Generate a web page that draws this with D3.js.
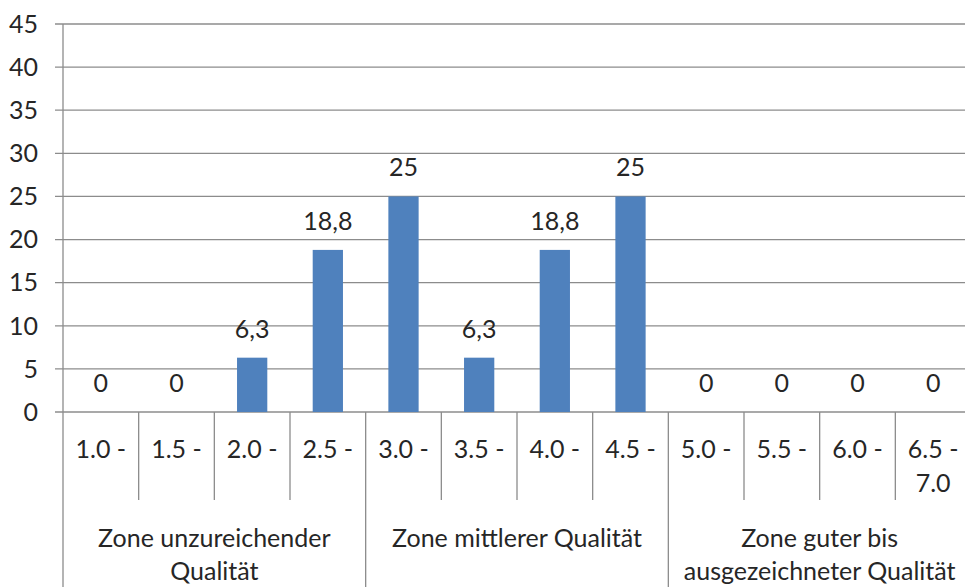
<!DOCTYPE html>
<html>
<head>
<meta charset="utf-8">
<script src="https://cdn.jsdelivr.net/npm/d3@7"></script>
<style>
  body { margin: 0; background: #fff; }
  svg { display: block; }
  text { font-family: Lato, "Open Sans", sans-serif; fill: #262626; }
</style>
</head>
<body>
<svg width="965" height="587"></svg>
<script>
const categories = ["1.0 -", "1.5 -", "2.0 -", "2.5 -", "3.0 -", "3.5 -", "4.0 -", "4.5 -", "5.0 -", "5.5 -", "6.0 -", "6.5 -\n7.0"];
const values = [0, 0, 6.3, 18.8, 25, 6.3, 18.8, 25, 0, 0, 0, 0];
const yTicks = [0, 5, 10, 15, 20, 25, 30, 35, 40, 45];
const zones = ["Zone unzureichender\nQualität", "Zone mittlerer Qualität", "Zone guter bis\nausgezeichneter Qualität"];
const zoneSpan = [[0, 3], [4, 7], [8, 11]];

const svg = d3.select("svg"),
      plotLeft = 63, plotRight = 971,
      plotTop = 24, base = 412,
      fs = "25px";

const x = d3.scaleBand().domain(categories).range([plotLeft, plotRight]).padding(0);
const y = d3.scaleLinear().domain([0, 45]).range([base, plotTop]);
const grey = "#8c8c8c";
const fmt = (v) => String(v).replace(".", ",");

// gridlines + y labels
svg.append("g").selectAll("line")
  .data(yTicks).enter().append("line")
  .attr("x1", plotLeft - 8).attr("x2", plotRight)
  .attr("y1", (d) => y(d)).attr("y2", (d) => y(d))
  .attr("stroke", grey).attr("stroke-width", 1.3);

svg.append("g").selectAll("text")
  .data(yTicks).enter().append("text")
  .attr("x", 38).attr("y", (d) => y(d))
  .attr("dy", "0.35em")
  .attr("text-anchor", "end")
  .style("font-size", fs)
  .text((d) => d);

// y axis line
svg.append("line")
  .attr("x1", plotLeft).attr("x2", plotLeft)
  .attr("y1", plotTop).attr("y2", 587)
  .attr("stroke", grey).attr("stroke-width", 1.3);

// category dividers
svg.append("g").selectAll("line")
  .data(categories.slice(1)).enter().append("line")
  .attr("x1", (d) => x(d)).attr("x2", (d) => x(d))
  .attr("y1", base).attr("y2", (d, i) => ((i + 1) % 4 === 0) ? 587 : 500)
  .attr("stroke", grey).attr("stroke-width", 1.3);

// bars
const bw = x.bandwidth() * 0.4;
svg.append("g").selectAll("rect")
  .data(values).enter().append("rect")
  .attr("x", (d, i) => x(categories[i]) + x.bandwidth() / 2 - bw / 2)
  .attr("y", (d) => y(d))
  .attr("width", bw)
  .attr("height", (d) => base - y(d))
  .attr("fill", "#4f81bd");

// value labels
svg.append("g").selectAll("text")
  .data(values).enter().append("text")
  .attr("x", (d, i) => x(categories[i]) + x.bandwidth() / 2)
  .attr("y", (d) => y(d) - 20)
  .attr("text-anchor", "middle")
  .style("font-size", fs)
  .text((d) => fmt(d));

// category labels
svg.append("g").selectAll("text")
  .data(categories).enter().append("text")
  .attr("text-anchor", "middle")
  .style("font-size", fs)
  .each(function(d) {
    const t = d3.select(this);
    const cx = x(d) + x.bandwidth() / 2;
    d.split("\n").forEach((s, k) => {
      t.append("tspan").attr("x", cx).attr("y", 458 + k * 34).text(s);
    });
  });

// zone labels
svg.append("g").selectAll("text")
  .data(zones).enter().append("text")
  .attr("text-anchor", "middle")
  .style("font-size", fs)
  .each(function(d, i) {
    const t = d3.select(this);
    const a = x(categories[zoneSpan[i][0]]);
    const b = x(categories[zoneSpan[i][1]]) + x.bandwidth();
    d.split("\n").forEach((s, k) => {
      t.append("tspan").attr("x", (a + b) / 2).attr("y", 547 + k * 33).text(s);
    });
  });
</script>
</body>
</html>
